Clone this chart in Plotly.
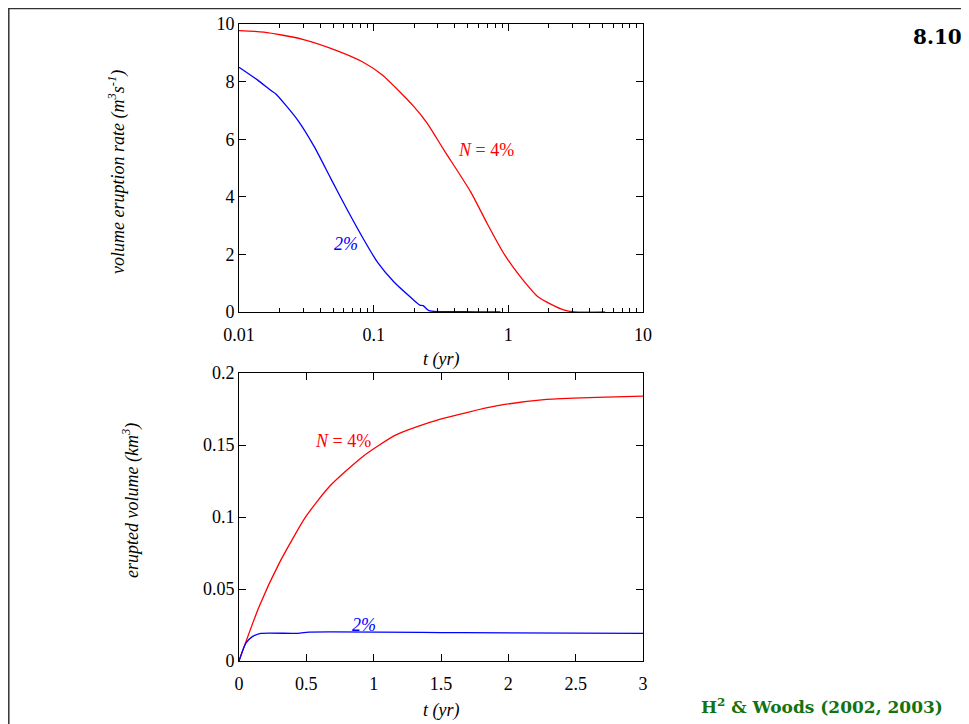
import plotly.graph_objects as go

# ---- data ----
# top panel: volume eruption rate vs time (log t)
t_top_n4 = [0.01, 0.0153, 0.0297, 0.0538, 0.0824, 0.116, 0.199, 0.25, 0.332, 0.524,
            0.695, 0.923, 1.227, 1.68, 2.57, 3.13, 5.24]
q_top_n4 = [9.77, 9.72, 9.47, 9.07, 8.69, 8.23, 7.13, 6.55, 5.63, 4.18,
            3.08, 2.04, 1.23, 0.51, 0.07, 0.0, 0.0]
t_top_n2 = [0.01, 0.0137, 0.0173, 0.0188, 0.0272, 0.0362, 0.048, 0.0638, 0.0848, 0.106,
            0.141, 0.188, 0.22, 0.233, 0.257, 0.467, 0.873]
q_top_n2 = [8.50, 8.06, 7.69, 7.57, 6.67, 5.74, 4.64, 3.54, 2.50, 1.75,
            1.05, 0.51, 0.24, 0.22, 0.05, 0.01, 0.0]

# bottom panel: erupted volume vs time
t_bot_n4 = [0.0, 0.149, 0.298, 0.496, 0.67, 0.918, 1.166, 1.489, 1.911, 2.284, 2.656, 3.0]
v_bot_n4 = [0.0, 0.0377, 0.0678, 0.1002, 0.121, 0.1419, 0.157, 0.1678, 0.1771, 0.1817, 0.1831, 0.184]
t_bot_n2 = [0.0, 0.05, 0.099, 0.161, 0.42, 0.521, 1.66, 3.0]
v_bot_n2 = [0.0, 0.0123, 0.0169, 0.0192, 0.0192, 0.0201, 0.0197, 0.0192]

top_xticks = [0.01, 0.1, 1, 10]
top_xlabels = ["0.01", "0.1", "1", "10"]
top_minor = [m * d for d in (0.01, 0.1, 1) for m in range(2, 10)]
top_yticks = [0, 2, 4, 6, 8, 10]
bot_xticks = [0, 0.5, 1, 1.5, 2, 2.5, 3]
bot_yticks = [0, 0.05, 0.1, 0.15, 0.2]

RED = "#ff0000"
BLUE = "#0000ff"
SERIF = "Liberation Serif"
# page body has an 8px margin, so the figure is the window size minus that
OFF = 8
W, H = 969 - OFF, 724 - OFF


def fx(x):
    return (x - OFF) / W


def fy(y):
    return 1 - (y - OFF) / H


fig = go.Figure()


def curve(x, y, color, xa, ya):
    fig.add_trace(go.Scatter(x=x, y=y, mode="lines",
                             line=dict(color=color, width=1.3, shape="spline", smoothing=0.6),
                             xaxis=xa, yaxis=ya, showlegend=False, hoverinfo="skip"))


curve(t_top_n4, q_top_n4, RED, "x", "y")
curve(t_top_n2, q_top_n2, BLUE, "x", "y")
curve(t_bot_n4, v_bot_n4, RED, "x2", "y2")
curve(t_bot_n2, v_bot_n2, BLUE, "x2", "y2")

xd = [fx(239), fx(643)]
top_yd = [fy(312), fy(24)]
bot_yd = [fy(661), fy(373)]

axis_common = dict(showline=True, linecolor="black", linewidth=1, mirror="allticks",
                   ticks="inside", tickcolor="black", ticklen=7, tickwidth=1,
                   showgrid=False, zeroline=False, automargin=False,
                   tickfont=dict(family=SERIF, size=18, color="black"))

fig.update_layout(
    width=W, height=H,
    margin=dict(l=0, r=0, t=0, b=0, pad=0, autoexpand=False),
    paper_bgcolor="white", plot_bgcolor="white",
    xaxis=dict(axis_common, type="log", range=[-2, 1], domain=xd, anchor="y",
               tickvals=top_xticks, ticktext=top_xlabels, ticklabelstandoff=6,
               minor=dict(tickvals=top_minor, ticks="inside", ticklen=4, tickcolor="black",
                          showgrid=False)),
    yaxis=dict(axis_common, range=[0, 10], domain=top_yd, anchor="x", tickvals=top_yticks),
    xaxis2=dict(axis_common, range=[0, 3], domain=xd, anchor="y2", tickvals=bot_xticks,
                ticklabelstandoff=6),
    yaxis2=dict(axis_common, range=[0, 0.2], domain=bot_yd, anchor="x2", tickvals=bot_yticks),
)

ann = []


def px_ann(text, x, y, size, color="black", angle=0, bold=False, family=SERIF):
    ann.append(dict(text=("<b>%s</b>" % text) if bold else text, xref="paper", yref="paper",
                    x=fx(x), y=fy(y), xanchor="center", yanchor="middle",
                    showarrow=False, textangle=angle,
                    font=dict(family=family, size=size, color=color)))


# axis titles
px_ann("<i>t (yr)</i>", 441, 359, 18)
px_ann("<i>t (yr)</i>", 441, 710, 18)
px_ann("<i>volume eruption rate (m<sup>3</sup>s<sup>-1</sup>)</i>", 117, 172, 18, angle=-90)
px_ann("<i>erupted volume (km<sup>3</sup>)</i>", 131, 501, 18, angle=-90)
# curve labels
px_ann("<i>N</i> = 4%", 486, 150, 18, color=RED)
px_ann("<i>2%</i>", 346, 244, 18, color=BLUE)
px_ann("<i>N</i> = 4%", 343, 441, 18, color=RED)
px_ann("<i>2%</i>", 364, 625, 18, color=BLUE)
# slide number and credit
px_ann("8.10", 937, 37, 20, bold=True, family="DejaVu Serif")
px_ann("H<sup>2</sup> &amp; Woods (2002, 2003)", 822, 706, 17, color="#137313", bold=True,
       family="DejaVu Serif")
fig.update_layout(annotations=ann)

# frame
frame = dict(type="line", xref="paper", yref="paper", line=dict(color="#333333", width=1.5))
fig.add_shape(frame, x0=0.8 / W, x1=0.8 / W, y0=0, y1=fy(8.5))
fig.add_shape(frame, x0=0, x1=fx(965), y0=fy(8.5), y1=fy(8.5))
fig.add_shape(dict(frame, line=dict(color="#777777", width=1)),
              x0=fx(965), x1=fx(965), y0=0, y1=fy(8.5))

fig.write_html("out.html")
